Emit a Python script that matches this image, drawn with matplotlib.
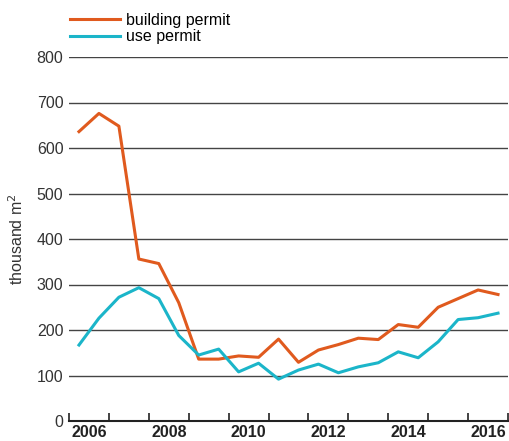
import matplotlib
matplotlib.use("Agg")
import matplotlib.pyplot as plt

plt.rcParams['font.family'] = ['Liberation Sans', 'DejaVu Sans']

# half-year points, 2006 H1 .. 2016 H2
periods = [2006.25 + 0.5 * i for i in range(22)]
building_permit = [636, 676, 648, 356, 346, 260, 136, 136, 143, 140, 180,
                   129, 156, 168, 182, 179, 212, 206, 250, 269, 288, 278]
use_permit = [167, 226, 272, 293, 269, 188, 145, 158, 108, 127, 92,
              112, 125, 106, 119, 128, 152, 139, 174, 223, 227, 237]
year_labels = ['2006', '2008', '2010', '2012', '2014', '2016']
y_ticks = [0, 100, 200, 300, 400, 500, 600, 700, 800]

orange = '#E05A1E'
cyan = '#1BB5C9'

fig = plt.figure(figsize=(5.09, 4.41), dpi=100)
ax = fig.add_axes([69 / 509, 1 - 421 / 441, 439 / 509, 364 / 441])

for v in y_ticks[1:]:
    ax.axhline(v, color='#444444', lw=1.0, zorder=1)

ax.plot(periods, building_permit, color=orange, lw=2.2, label='building permit', zorder=3)
ax.plot(periods, use_permit, color=cyan, lw=2.2, label='use permit', zorder=3)

ax.set_xlim(2006, 2017)
ax.set_ylim(0, 800)

for s in ['top', 'right', 'left']:
    ax.spines[s].set_visible(False)
ax.spines['bottom'].set_color('#222222')
ax.spines['bottom'].set_linewidth(1.5)

ax.set_yticks(y_ticks)
ax.tick_params(axis='y', length=0, labelsize=11.5, labelcolor='#333333', pad=4)

ax.set_xticks(range(2006, 2018))
ax.set_xticklabels([])
ax.tick_params(axis='x', which='major', direction='in', length=6, width=1.2, color='#222222')
ax.set_xticks([int(y) + 0.5 for y in year_labels], minor=True)
ax.set_xticklabels(year_labels, minor=True, fontweight='bold', fontsize=11.5, color='#222222')
ax.tick_params(axis='x', which='minor', length=0, pad=3)

ax.set_ylabel('thousand m$^2$', fontsize=11.5, color='#333333', labelpad=8)

ax.legend(loc='lower left', bbox_to_anchor=(0.003, 1.035), frameon=False, fontsize=11.5,
          handlelength=3.1, handletextpad=0.4, labelspacing=0.08, borderaxespad=0,
          borderpad=0)

fig.savefig('out.png', dpi=100)
